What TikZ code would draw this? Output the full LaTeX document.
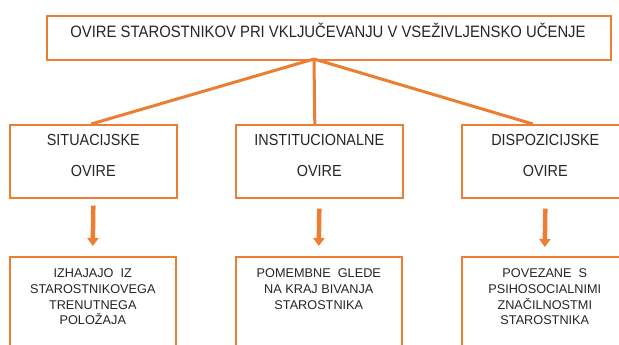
\documentclass[tikz,border=0pt]{standalone}
\usepackage{fontspec}
\setmainfont{Liberation Sans}
\newfontfamily\narrowfont[FakeStretch=0.9]{Liberation Sans}
\usetikzlibrary{arrows.meta}
\definecolor{ora}{HTML}{ED7D31}
\definecolor{txt}{HTML}{262626}
\tikzset{
  box/.style={draw=ora, line width=1.6pt, inner sep=0pt, fill=white},
  link/.style={draw=ora, line width=3pt},
  downarrow/.style={draw=ora, line width=4.5pt, -{Triangle[width=11pt,length=8pt]}},
  toptext/.style={text=txt, inner sep=0pt, font=\narrowfont\fontsize{16.5}{18}\selectfont},
  midtext/.style={text=txt, inner sep=0pt, font=\narrowfont\fontsize{16}{18}\selectfont},
  lowtext/.style={text=txt, inner sep=0pt, align=center, font=\fontsize{12.7}{15.8}\selectfont},
}
\begin{document}
\begin{tikzpicture}[x=1pt,y=-1pt]
\useasboundingbox (0,0) rectangle (619,345);
\clip (0,0) rectangle (619,345);
% top box
\node[box, minimum width=564pt, minimum height=44pt, anchor=north west] (top) at (46,15) {};
\node[toptext, anchor=base] (toplbl) at (328,38) {OVIRE STAROSTNIKOV PRI VKLJUČEVANJU V VSEŽIVLJENSKO UČENJE};
% middle boxes
\node[box, minimum width=167pt, minimum height=73pt, anchor=north west] (b1) at (9,124) {};
\node[box, minimum width=167pt, minimum height=73pt, anchor=north west] (b2) at (235,124) {};
\node[box, minimum width=167pt, minimum height=73pt, anchor=north west] (b3) at (461,124) {};
\node[midtext, anchor=base] (b1a) at ([yshift=-22pt]b1.north) {SITUACIJSKE};
\node[midtext, anchor=base] (b1b) at ([yshift=-52pt]b1.north) {OVIRE};
\node[midtext, anchor=base] (b2a) at ([yshift=-22pt]b2.north) {INSTITUCIONALNE};
\node[midtext, anchor=base] (b2b) at ([yshift=-52pt]b2.north) {OVIRE};
\node[midtext, anchor=base] (b3a) at ([yshift=-22pt]b3.north) {DISPOZICIJSKE};
\node[midtext, anchor=base] (b3b) at ([yshift=-52pt]b3.north) {OVIRE};
% bottom boxes
\node[box, minimum width=166pt, minimum height=110pt, anchor=north west] (c1) at (9,256) {};
\node[box, minimum width=166pt, minimum height=110pt, anchor=north west] (c2) at (235,256) {};
\node[box, minimum width=166pt, minimum height=110pt, anchor=north west] (c3) at (461,256) {};
\node[lowtext, anchor=north] (c1t) at ([yshift=-12.5pt]c1.north) {IZHAJAJO\ \ IZ\\STAROSTNIKOVEGA\\TRENUTNEGA\\POLOŽAJA};
\node[lowtext, anchor=north] (c2t) at ([yshift=-12.5pt]c2.north) {POMEMBNE\ \ GLEDE\\NA KRAJ BIVANJA\\STAROSTNIKA};
\node[lowtext, anchor=north] (c3t) at ([yshift=-12.5pt]c3.north) {POVEZANE\ \ S\\PSIHOSOCIALNIMI\\ZNAČILNOSTMI\\STAROSTNIKA};
% connectors
\coordinate (jt) at (314,59);
\draw[link] (jt) -- ([xshift=-2pt]b1.north);
\draw[link] (jt) -- ([xshift=-4.5pt]b2.north);
\draw[link] (jt) -- ([xshift=-12.5pt]b3.north);
% arrows
\draw[downarrow] ([yshift=-7pt]b1.south) -- ([yshift=10pt]c1.north);
\draw[downarrow] ([yshift=-10pt]b2.south) -- ([yshift=10pt]c2.north);
\draw[downarrow] ([yshift=-10pt]b3.south) -- ([yshift=9pt]c3.north);
\end{tikzpicture}
\end{document}
